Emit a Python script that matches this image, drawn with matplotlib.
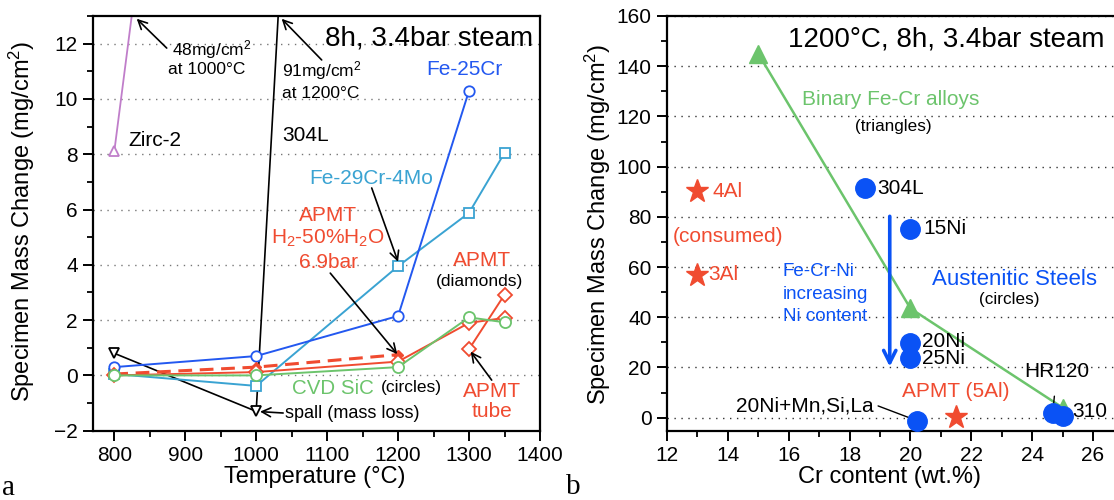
import matplotlib
matplotlib.use("Agg")
import matplotlib.pyplot as plt
from matplotlib.ticker import MultipleLocator

plt.rcParams['font.family'] = ['Liberation Sans', 'DejaVu Sans']
plt.rcParams['mathtext.fontset'] = 'custom'
plt.rcParams['mathtext.rm'] = 'Liberation Sans'
plt.rcParams['mathtext.it'] = 'Liberation Sans:italic'
plt.rcParams['axes.linewidth'] = 1.6

# ---------------- panel a: mass change vs temperature ----------------
fe25cr_T = [800, 1000, 1200, 1300]
fe25cr = [0.3, 0.7, 2.15, 10.3]
fe29cr_T = [800, 1000, 1200, 1300, 1350]
fe29cr = [0.05, -0.38, 3.95, 5.88, 8.05]
apmt_T = [800, 1000, 1200, 1300, 1350]
apmt = [0.0, 0.12, 0.5, 1.9, 2.08]
apmt_tube_T = [1300, 1350]
apmt_tube = [0.95, 2.92]
apmt_h2_T = [800, 1000, 1200]
apmt_h2 = [0.05, 0.3, 0.75]
sic_T = [800, 1000, 1200, 1300, 1350]
sic = [0.0, 0.0, 0.3, 2.1, 1.92]
zirc_T = [800, 1000]
zirc = [8.1, 48]
ss304_T = [800, 1000, 1200]
ss304 = [0.8, -1.3, 91]

# ---------------- panel b: mass change vs Cr content at 1200C ----------------
binary_cr = [15, 20, 25]
binary_mass = [145, 43.5, 4]
aus_names = ['304L', '15Ni', '20Ni', '25Ni', '20Ni+Mn,Si,La', 'HR120', '310']
aus_cr = [18.5, 20, 20, 20, 20.2, 24.7, 25.0]
aus_mass = [91.3, 75.3, 29.8, 23.7, -1.2, 1.8, 0.7]
fecral_names = ['4Al', '3Al', 'APMT (5Al)']
fecral_cr = [13, 13, 21.5]
fecral_mass = [90.2, 56.9, 0.4]

C_BLUE = '#2358F0'
C_LBLUE = '#3AA3D2'
C_RED = '#F04B30'
C_GREEN = '#6CC46C'
C_PURPLE = '#C07ECA'
C_DBLUE = '#0A52F5'

W, H = 1114, 500
fig = plt.figure(figsize=(W / 100, H / 100), dpi=100)


def fx(px):
    return px / W


def fy(py):
    return 1 - py / H


axa = fig.add_axes([fx(93), fy(430.7), fx(540 - 93), (430.7 - 16) / H])
axb = fig.add_axes([fx(667), fy(430.7), fx(1120 - 667), (430.7 - 16) / H])

for ax in (axa, axb):
    ax.tick_params(which='major', direction='out', length=7, width=1.4,
                   labelsize=15, pad=4)
    ax.tick_params(which='minor', direction='out', length=4, width=1.3)
    ax.set_axisbelow(True)

# ---- panel a ----
axa.set_xlim(770, 1400)
axa.set_ylim(-2, 13)
axa.xaxis.set_major_locator(MultipleLocator(100))
axa.xaxis.set_minor_locator(MultipleLocator(50))
axa.yaxis.set_major_locator(MultipleLocator(2))
axa.yaxis.set_minor_locator(MultipleLocator(1))
axa.yaxis.grid(True, which='major', linestyle=(0, (1, 4)), color='#777777', lw=1.0)

mk = dict(markerfacecolor='white', markeredgewidth=1.3)
axa.plot(zirc_T, zirc, color=C_PURPLE, lw=1.3, marker='^', ms=7, markeredgecolor=C_PURPLE, **mk)
axa.plot(ss304_T, ss304, color='k', lw=1.2, marker='v', ms=7, markeredgecolor='k', **mk)
axa.plot(fe29cr_T, fe29cr, color=C_LBLUE, lw=1.4, marker='s', ms=7, markeredgecolor=C_LBLUE, **mk)
axa.plot(fe25cr_T, fe25cr, color=C_BLUE, lw=1.4, marker='o', ms=7.5, markeredgecolor=C_BLUE, **mk)
axa.plot(apmt_h2_T, apmt_h2, color=C_RED, lw=2.2, dashes=(4.5, 2.5), marker='D',
         ms=5.5, markerfacecolor=C_RED, markeredgecolor=C_RED)
axa.plot(apmt_T, apmt, color=C_RED, lw=1.4, marker='D', ms=7, markeredgecolor=C_RED, **mk)
axa.plot(apmt_tube_T, apmt_tube, color=C_RED, lw=1.4, marker='D', ms=7, markeredgecolor=C_RED, **mk)
axa.plot(sic_T, sic, color=C_GREEN, lw=1.4, marker='o', ms=8, markeredgecolor=C_GREEN, **mk)

arrow_k = dict(arrowstyle='->', color='k', lw=1.2, mutation_scale=16, shrinkA=0, shrinkB=0)

axa.annotate('', xy=(831.6, 12.9), xytext=(873.9, 11.84), arrowprops=arrow_k)
axa.text(881, 11.77, '48mg/cm$^2$', fontsize=12.5, ha='left', va='center')
axa.text(875, 11.05, 'at 1000°C', fontsize=12.5, ha='left', va='center')
axa.annotate('', xy=(1035.9, 12.9), xytext=(1092.3, 11.41), arrowprops=arrow_k)
axa.text(1036, 11.02, '91mg/cm$^2$', fontsize=12.5, ha='left', va='center')
axa.text(1036, 10.2, 'at 1200°C', fontsize=12.5, ha='left', va='center')

axa.text(819.4, 8.48, 'Zirc-2', fontsize=15, ha='left', va='center')
axa.text(1037.3, 8.69, '304L', fontsize=15, ha='left', va='center')
axa.text(0.984, 0.946, '8h, 3.4bar steam', fontsize=20, ha='right', va='center',
         transform=axa.transAxes)
axa.text(1293.5, 11.05, 'Fe-25Cr', fontsize=15, color=C_BLUE, ha='center', va='center')
axa.text(1161.9, 7.13, 'Fe-29Cr-4Mo', fontsize=15, color=C_LBLUE, ha='center', va='center')
axa.annotate('', xy=(1199.9, 4.11), xytext=(1162.8, 6.78), arrowprops=arrow_k)

axa.text(1101.6, 5.80, 'APMT', fontsize=15, color=C_RED, ha='center', va='center')
axa.text(1101.6, 4.97, 'H$_2$-50%H$_2$O', fontsize=15, color=C_RED, ha='center', va='center')
axa.text(1101.6, 4.10, '6.9bar', fontsize=15, color=C_RED, ha='center', va='center')
axa.annotate('', xy=(1198.8, 0.77), xytext=(1104.4, 3.70), arrowprops=arrow_k)

axa.text(1317.8, 4.17, 'APMT', fontsize=15, color=C_RED, ha='center', va='center')
axa.text(1315.4, 3.39, '(diamonds)', fontsize=12.5, ha='center', va='center')

axa.text(1049.9, -0.46, 'CVD SiC', fontsize=14.8, color=C_GREEN, ha='left', va='center')
axa.text(1176, -0.42, '(circles)', fontsize=12.5, ha='left', va='center')
axa.text(1040.5, -1.37, 'spall (mass loss)', fontsize=13, ha='left', va='center')
axa.annotate('', xy=(1005.4, -1.31), xytext=(1038, -1.36), arrowprops=arrow_k)

axa.text(1331.9, -0.59, 'APMT', fontsize=15, color=C_RED, ha='center', va='center')
axa.text(1331.9, -1.31, 'tube', fontsize=15, color=C_RED, ha='center', va='center')
axa.annotate('', xy=(1302.3, 0.86), xytext=(1331.9, -0.17), arrowprops=arrow_k)

axa.set_xlabel('Temperature (°C)', fontsize=17)
axa.set_ylabel('Specimen Mass Change (mg/cm$^2$)', fontsize=17)
axa.xaxis.set_label_coords(0.497, -0.085)
axa.yaxis.set_label_coords(-0.125, 0.505)

# ---- panel b ----
axb.set_xlim(12, 12 + (1120 - 667) / 30.43)
axb.set_ylim(-5.2, 160)
axb.xaxis.set_major_locator(MultipleLocator(2))
axb.xaxis.set_minor_locator(MultipleLocator(1))
axb.yaxis.set_major_locator(MultipleLocator(20))
axb.yaxis.set_minor_locator(MultipleLocator(10))
axb.yaxis.grid(True, which='major', linestyle=(0, (1, 4)), color='#333333', lw=1.0)

axb.plot(binary_cr, binary_mass, color=C_GREEN, lw=1.8, marker='^', ms=13,
         markerfacecolor=C_GREEN, markeredgecolor=C_GREEN, zorder=3)
axb.plot(aus_cr, aus_mass, linestyle='none', marker='o', ms=14,
         markerfacecolor=C_DBLUE, markeredgecolor=C_DBLUE, zorder=4)
axb.plot(fecral_cr, fecral_mass, linestyle='none', marker='*', ms=17,
         markerfacecolor=C_RED, markeredgecolor=C_RED, zorder=4)

axb.text(26.39, 150.7, '1200°C, 8h, 3.4bar steam', fontsize=20, ha='right', va='center')
axb.text(19.34, 126.8, 'Binary Fe-Cr alloys', fontsize=15, color=C_GREEN, ha='center', va='center')
axb.text(19.43, 116.1, '(triangles)', fontsize=12.3, ha='center', va='center')

label_offsets = {'304L': (9, 0), '15Ni': (9.4, 0), '20Ni': (8.5, 1), '25Ni': (8.5, 0),
                 '310': (7, 3)}
for name, x, y in zip(aus_names, aus_cr, aus_mass):
    if name in label_offsets:
        axb.annotate(name, (x, y), xytext=label_offsets[name], textcoords='offset points',
                     fontsize=15, ha='left', va='center')

axb.annotate('HR120', xy=(24.68, 2.4), xytext=(24.81, 18.4), fontsize=15, ha='center',
             va='center', arrowprops=dict(arrowstyle='-', color='k', lw=1.0,
                                          shrinkA=9, shrinkB=0))
axb.annotate('20Ni+Mn,Si,La', xy=(20.15, -0.9), xytext=(16.54, 4.67), fontsize=15,
             ha='center', va='center',
             arrowprops=dict(arrowstyle='-', color='k', lw=1.0, shrinkA=0, shrinkB=0,
                             relpos=(1.03, 0.5)))

axb.annotate('4Al', (fecral_cr[0], fecral_mass[0]), xytext=(10.6, 0), textcoords='offset points',
             fontsize=15, color=C_RED, ha='left', va='center')
axb.annotate('3Al', (fecral_cr[1], fecral_mass[1]), xytext=(8, 0), textcoords='offset points',
             fontsize=15, color=C_RED, ha='left', va='center')
axb.text(14.0, 72.2, '(consumed)', fontsize=15, color=C_RED, ha='center', va='center')
axb.text(21.5, 10.4, 'APMT (5Al)', fontsize=15, color=C_RED, ha='center', va='center')

axb.text(15.8, 58.3, 'Fe-Cr-Ni', fontsize=13.5, color=C_DBLUE, ha='left', va='center')
axb.text(15.8, 49.0, 'increasing', fontsize=13.5, color=C_DBLUE, ha='left', va='center')
axb.text(15.8, 40.3, 'Ni content', fontsize=13.5, color=C_DBLUE, ha='left', va='center')
axb.annotate('', xy=(19.32, 20.3), xytext=(19.32, 80.2),
             arrowprops=dict(arrowstyle='->', color=C_DBLUE, lw=2.6, mutation_scale=22,
                             shrinkA=0, shrinkB=0))

axb.text(23.41, 54.9, 'Austenitic Steels', fontsize=16, color=C_DBLUE, ha='center', va='center')
axb.text(23.24, 46.9, '(circles)', fontsize=12.3, ha='center', va='center')

axb.set_xlabel('Cr content (wt.%)', fontsize=17)
axb.set_ylabel('Specimen Mass Change (mg/cm$^2$)', fontsize=17)
axb.xaxis.set_label_coords(0.492, -0.085)
axb.yaxis.set_label_coords(-0.12, 0.497)

fig.text(fx(2), fy(488), 'a', family=['Liberation Serif', 'DejaVu Serif'], fontsize=21,
         ha='left', va='center')
fig.text(fx(566), fy(487), 'b', family=['Liberation Serif', 'DejaVu Serif'], fontsize=21,
         ha='left', va='center')

fig.savefig('out.png', dpi=100)
